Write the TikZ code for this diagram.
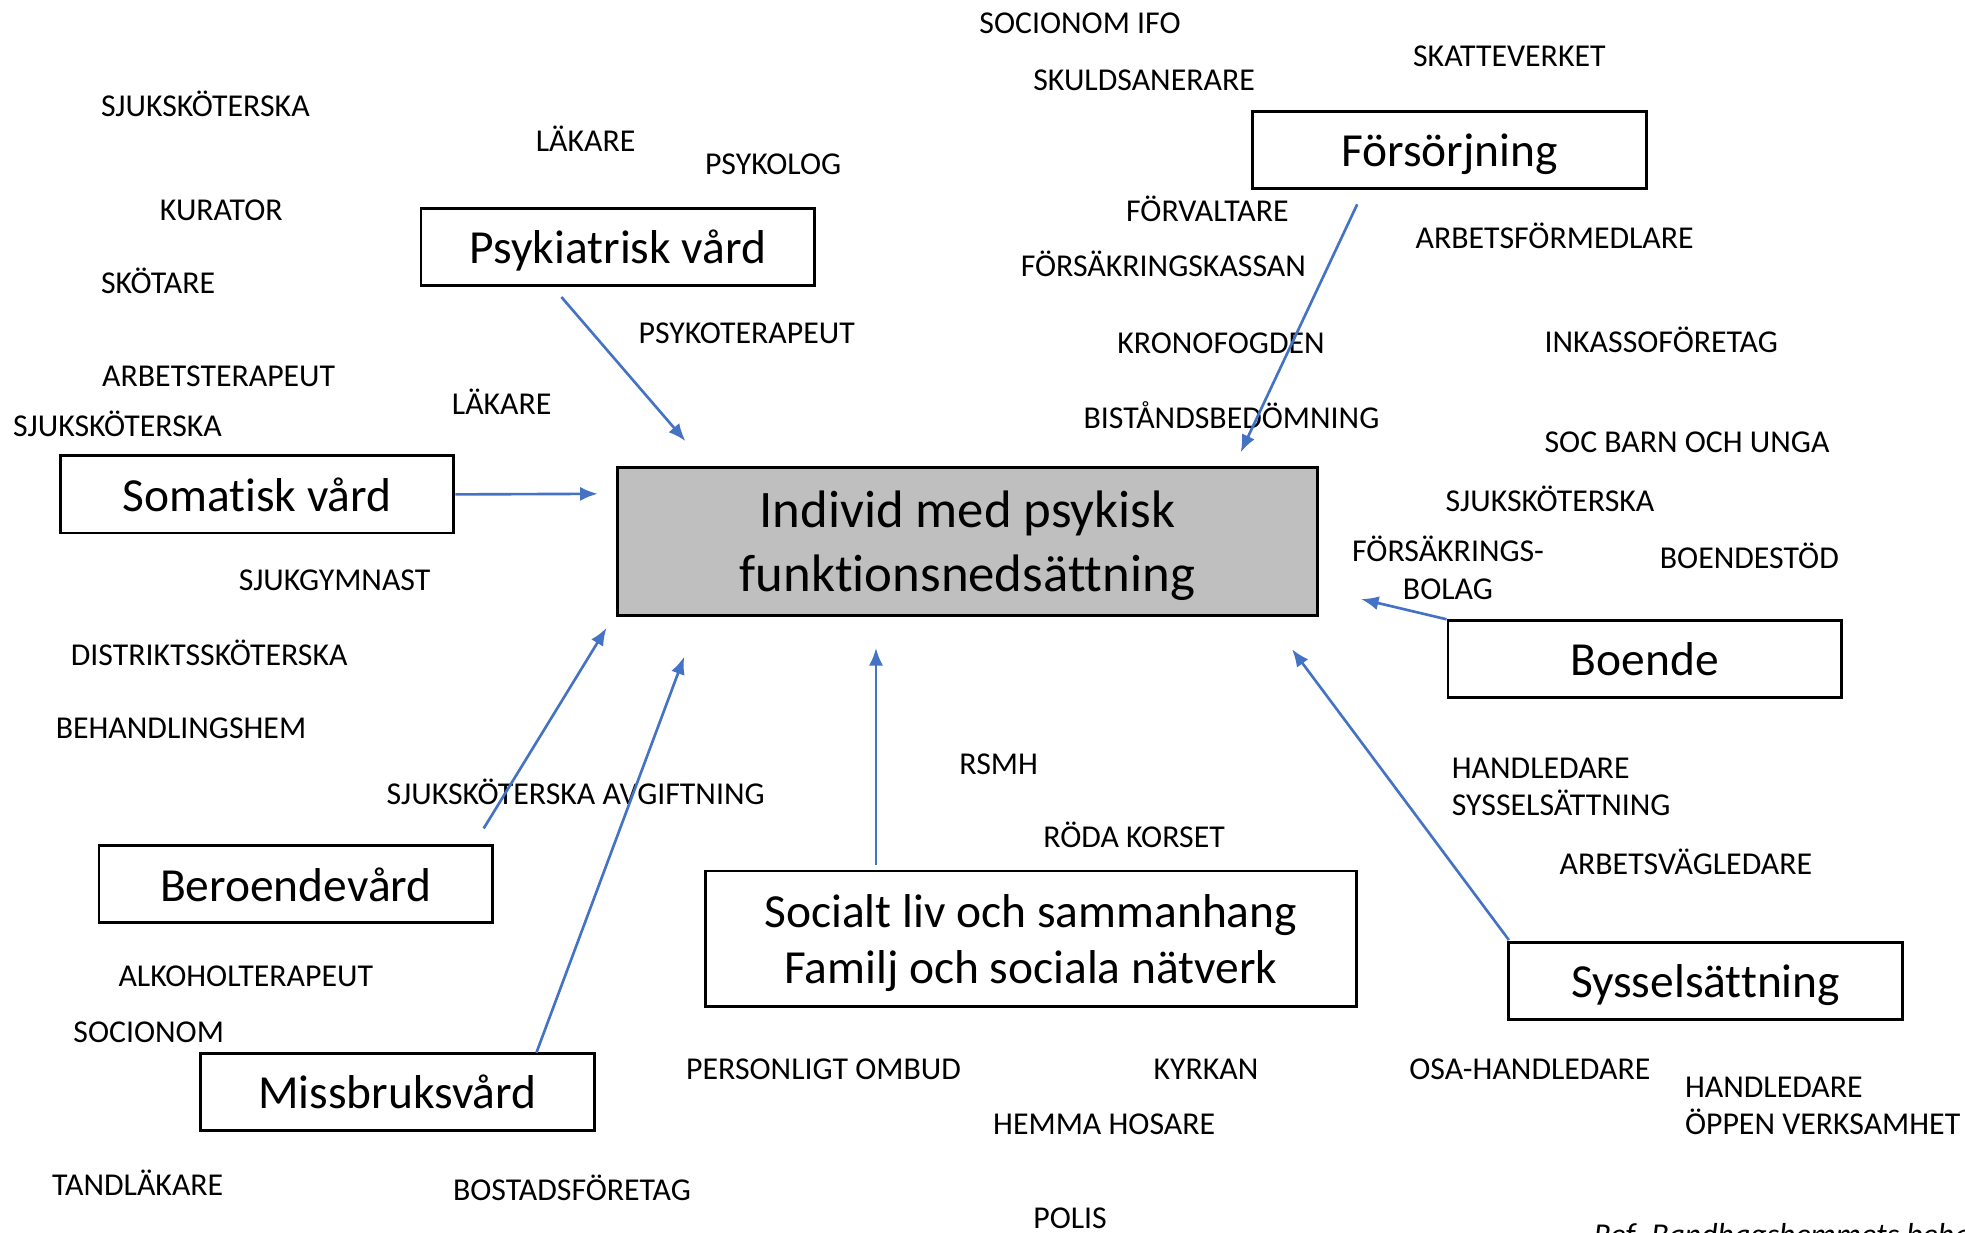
\documentclass[tikz,border=0pt]{standalone}
\usepackage{fontspec}
\setmainfont{Carlito}[Ligatures={NoCommon}]
\usetikzlibrary{arrows.meta}
\definecolor{linkblue}{HTML}{4472C4}
\definecolor{coregrey}{HTML}{BFBFBF}

\begin{document}
\begin{tikzpicture}[x=0.01cm,y=-0.01cm,
  role/.style={anchor=base west, inner sep=0pt, font=\fontsize{9.05}{10.7}\selectfont},
  rolepair/.style={inner sep=0pt, font=\fontsize{9.05}{10.7}\selectfont},
  area/.style={draw=black, line width=0.8pt, fill=white, inner sep=0pt, text depth=0pt,
    minimum width=3.935cm, minimum height=0.77cm, font=\fontsize{13.5}{16}\selectfont},
  core/.style={draw=black, line width=0.8pt, fill=coregrey, inner sep=0pt, align=center,
    text depth=0pt, minimum width=6.993cm, minimum height=1.479cm,
    font=\fontsize{15}{18.2}\selectfont},
  link/.style={draw=linkblue, line width=0.75pt, -{Latex[length=5pt,width=4pt]}}]

\clip (0,0) rectangle (1965,1232);
\fill[white] (0,0) rectangle (1965,1232);

% ---- areas of support ----
\node[area] (forsorjning) at (1449.4,149.8) {Försörjning};
\node[area] (psykiatri) at (617.9,246.9) {Psykiatrisk vård};
\node[area] (somatisk) at (257,494.4) {Somatisk vård};
\node[core] (individ) at (967.5,541.4) {Individ med psykisk\\funktionsnedsättning};
\node[area] (boende) at (1644.8,659.2) {Boende};
\node[area] (beroende) at (295.8,884.2) {Beroendevård};
\node[area, align=center, minimum width=6.505cm, minimum height=1.353cm,
  font=\fontsize{13.5}{15.9}\selectfont] (socialt) at (1030.8,938.7)
  {Socialt liv och sammanhang\\Familj och sociala nätverk};
\node[area] (syssel) at (1705.6,980.6) {Sysselsättning};
\node[area] (missbruk) at (397.3,1091.6) {Missbruksvård};

% ---- professions and actors ----
\node[role] (t1) at (978.7,33.8) {SOCIONOM IFO};
\node[role] (t2) at (1412.4,66.4) {SKATTEVERKET};
\node[role] (t3) at (1032.6,90.2) {SKULDSANERARE};
\node[role] (t4) at (100.3,116.5) {SJUKSKÖTERSKA};
\node[role] (t5) at (535.1,151.6) {LÄKARE};
\node[role] (t6) at (704.3,174.2) {PSYKOLOG};
\node[role] (t7) at (159.2,220.5) {KURATOR};
\node[role] (t8) at (1125.4,221.8) {FÖRVALTARE};
\node[role] (t9) at (1414.9,248.1) {ARBETSFÖRMEDLARE};
\node[role] (t10) at (1020.1,276.9) {FÖRSÄKRINGSKASSAN};
\node[role] (t11) at (100.3,293.2) {SKÖTARE};
\node[role] (t12) at (637.9,343.4) {PSYKOTERAPEUT};
\node[role] (t13) at (1116.6,353.4) {KRONOFOGDEN};
\node[role] (t14) at (1543.9,352.1) {INKASSOFÖRETAG};
\node[role] (t15) at (101.5,386) {ARBETSTERAPEUT};
\node[role] (t16) at (451.2,414.8) {LÄKARE};
\node[role] (t17) at (1082.8,428.6) {BISTÅNDSBEDÖMNING};
\node[role] (t18) at (12.5,436.1) {SJUKSKÖTERSKA};
\node[role] (t19) at (1543.9,452.4) {SOC BARN OCH UNGA};
\node[role] (t20) at (1445,511.3) {SJUKSKÖTERSKA};
\node[rolepair, align=center] (t21) at (1448,568) {FÖRSÄKRINGS-\\BOLAG};
\node[role] (t22) at (1659.2,568.9) {BOENDESTÖD};
\node[role] (t23) at (238.1,590.2) {SJUKGYMNAST};
\node[role] (t24) at (70.2,665.4) {DISTRIKTSSKÖTERSKA};
\node[role] (t25) at (55.1,738.1) {BEHANDLINGSHEM};
\node[role] (t26) at (958.7,774.5) {RSMH};
\node[rolepair, align=left, anchor=west] (t27) at (1451.2,787) {HANDLEDARE\\SYSSELSÄTTNING};
\node[role] (t28) at (386,804.5) {SJUKSKÖTERSKA AVGIFTNING};
\node[role] (t29) at (1042.7,847.1) {RÖDA KORSET};
\node[role] (t30) at (1559,874.7) {ARBETSVÄGLEDARE};
\node[role] (t31) at (117.8,986.2) {ALKOHOLTERAPEUT};
\node[role] (t32) at (72.7,1042.6) {SOCIONOM};
\node[role] (t33) at (685.5,1079) {PERSONLIGT OMBUD};
\node[role] (t34) at (1152.9,1079) {KYRKAN};
\node[role] (t35) at (1408.6,1079) {OSA-HANDLEDARE};
\node[rolepair, align=left, anchor=west] (t36) at (1684.3,1106) {HANDLEDARE\\ÖPPEN VERKSAMHET};
\node[role] (t37) at (992.5,1134.1) {HEMMA HOSARE};
\node[role] (t38) at (51.4,1195.5) {TANDLÄKARE};
\node[role] (t39) at (452.4,1200.5) {BOSTADSFÖRETAG};
\node[role] (t40) at (1032.6,1228.1) {POLIS};
\node[role, font=\fontsize{9.05}{10.7}\selectfont\itshape] (ref) at (1593,1245) {Ref. Bandhagshemmets beha};

% ---- arrow end points ----
\coordinate (psykS) at (561.4,297);
\coordinate (psykE) at (685.5,441.1);
\coordinate (forsS) at (1357.2,204.3);
\coordinate (forsE) at (1240.7,452.4);
\coordinate (somE) at (597.8,493.8);
\coordinate (boE) at (1361,599);
\coordinate (berS) at (483.7,828.4);
\coordinate (berE) at (606.5,627.9);
\coordinate (misS) at (536.4,1052.7);
\coordinate (misE) at (684.2,656.7);
\coordinate (socS) at (876,864.7);
\coordinate (socE) at (876,647.9);
\coordinate (sysS) at (1508.9,940);
\coordinate (sysE) at (1292,649.2);

% ---- connectors towards the individual ----
\draw[link] (psykS) -- (psykE);
\draw[link] (forsS) -- (forsE);
\draw[link] (somatisk.east) -- (somE);
\draw[link] (boende.north west) -- (boE);
\draw[link] (berS) -- (berE);
\draw[link] (misS) -- (misE);
\draw[link] (socS) -- (socE);
\draw[link] (sysS) -- (sysE);
\end{tikzpicture}
\end{document}
